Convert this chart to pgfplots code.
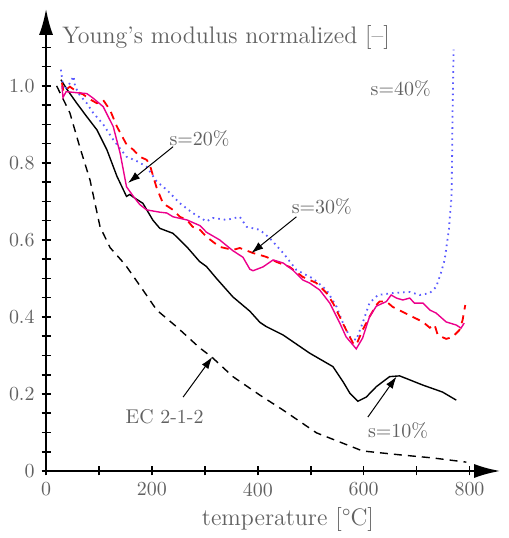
\documentclass[border=0pt]{standalone}
\usepackage{pgfplots}
\pgfplotsset{compat=1.18}
\usetikzlibrary{arrows.meta}
\definecolor{txt}{gray}{0.38}
\definecolor{bluedot}{RGB}{90,90,255}
\begin{document}
\begin{tikzpicture}
\begin{axis}[
  scale only axis, width=227bp, height=231bp,
  xmin=0, xmax=858, ymin=0, ymax=1.2,
  axis lines=left,
  axis line style={line width=1bp, -{Latex[length=13bp,width=7bp]}},
  xtick={0,200,400,600,800}, minor xtick={100,300,500,700},
  ytick={0,0.2,0.4,0.6,0.8,1.0},
  yticklabels={0,0.2,0.4,0.6,0.8,1.0},
  xticklabels={0,200,400,600,800},
  minor ytick={0.05,0.1,0.15,0.25,0.3,0.35,0.45,0.5,0.55,0.65,0.7,0.75,0.85,0.9,0.95,1.05,1.1},
  tick align=center, major tick length=4.5bp, minor tick length=4.5bp,
  tick style={black, line width=0.8bp},
  ticklabel style={text=txt, font=\normalsize},
  clip=false,
]
% EC 2-1-2
\addplot[black, line width=0.7bp, dash pattern=on 4bp off 3bp] coordinates {
(20,1.0) (45,0.93) (64,0.84) (83,0.756) (102,0.634) (121,0.58) (150,0.535)
(183,0.47) (209,0.418) (247,0.374) (290,0.32) (313,0.296) (353,0.245) (404,0.197)
(448,0.158) (511,0.099) (598,0.052) (668,0.042) (730,0.034) (794,0.023)};
% s=10%
\addplot[black, line width=0.7bp] coordinates {
(28,1.016) (40,0.99) (58,0.955) (77,0.92) (96,0.886) (115,0.834) (134,0.765)
(152,0.713) (158,0.718) (165,0.711) (183,0.695) (202,0.651) (215,0.630) (240,0.617)
(266,0.582) (290,0.544) (303,0.531) (322,0.50) (353,0.452) (385,0.415) (404,0.386)
(416,0.375) (448,0.353) (498,0.306) (542,0.271) (561,0.232) (574,0.202) (589,0.181)
(605,0.192) (624,0.219) (649,0.245) (668,0.247) (712,0.223) (749,0.205) (775,0.184)};
% s=40%
\addplot[bluedot, line width=0.9bp, dash pattern=on 0.8bp off 2bp] coordinates {
(28,1.042) (33,0.99) (42,1.0) (52,1.025) (55,0.998) (64,0.975) (77,0.955) (89,0.93)
(108,0.9) (127,0.86) (152,0.816) (171,0.805) (190,0.79) (209,0.752) (228,0.73)
(253,0.695) (277,0.67) (303,0.648) (315,0.657) (341,0.652) (366,0.66) (379,0.634)
(404,0.626) (423,0.604) (448,0.566) (473,0.522) (504,0.50) (530,0.47) (549,0.426)
(561,0.384) (574,0.348) (586,0.34) (598,0.384) (611,0.436) (627,0.457) (655,0.462)
(687,0.465) (706,0.457) (725,0.462) (737,0.478) (746,0.514) (753,0.548) (761,0.626)
(766,0.712) (767,0.80) (768,0.93) (770,1.094)};
% s=30%
\addplot[red, line width=0.9bp, dash pattern=on 4bp off 3bp] coordinates {
(30,1.008) (33,0.985) (45,0.998) (58,0.985) (70,0.978) (83,0.965) (96,0.955)
(108,0.963) (121,0.937) (134,0.894) (152,0.848) (165,0.834) (177,0.816) (190,0.808)
(196,0.795) (209,0.735) (221,0.695) (240,0.678) (253,0.66) (266,0.652) (277,0.634)
(291,0.626) (303,0.608) (328,0.582) (353,0.574) (366,0.579) (391,0.566) (416,0.556)
(435,0.543) (460,0.53) (485,0.504) (511,0.488) (530,0.462) (542,0.436) (555,0.40)
(567,0.366) (580,0.332) (586,0.327) (598,0.366) (611,0.40) (624,0.431) (630,0.44)
(643,0.44) (655,0.426) (674,0.413) (693,0.40) (712,0.387) (725,0.372) (734,0.38)
(740,0.353) (756,0.343) (768,0.348) (781,0.366) (787,0.392) (792,0.431)};
% s=20%
\addplot[magenta, line width=0.7bp] coordinates {
(30,1.0) (32,0.97) (38,0.985) (60,0.982) (77,0.98) (89,0.968) (108,0.946)
(127,0.894) (140,0.825) (152,0.738) (165,0.713) (177,0.692) (190,0.678) (215,0.672)
(228,0.67) (240,0.66) (266,0.652) (291,0.637) (303,0.62) (328,0.60) (353,0.572)
(372,0.555) (385,0.524) (391,0.52) (410,0.53) (429,0.548) (448,0.54) (466,0.522)
(485,0.496) (498,0.488) (517,0.47) (536,0.436) (555,0.384) (567,0.348) (580,0.327)
(586,0.317) (598,0.345) (611,0.40) (624,0.428) (643,0.44) (652,0.457) (662,0.449)
(674,0.444) (687,0.449) (696,0.436) (712,0.436) (725,0.418) (737,0.41) (756,0.387)
(775,0.379) (784,0.371) (790,0.384)};
% annotations
\node[anchor=west, text=txt, font=\large, inner sep=0pt] at (axis cs:30,1.125) {Young's modulus normalized [--]};
\node[text=txt, font=\large] at (axis cs:457,-0.127) {temperature [\textdegree C]};
\node[text=txt] at (axis cs:290,0.862) {s=20\%};
\draw[-{Latex[length=6bp,width=4bp]}, line width=0.5bp] (axis cs:240,0.842) -- (axis cs:155,0.748);
\node[text=txt] at (axis cs:521,0.686) {s=30\%};
\draw[-{Latex[length=6bp,width=4bp]}, line width=0.5bp] (axis cs:473,0.66) -- (axis cs:388,0.566);
\node[text=txt] at (axis cs:670,0.992) {s=40\%};
\node[text=txt] at (axis cs:224,0.14) {EC 2-1-2};
\draw[-{Latex[length=6bp,width=4bp]}, line width=0.5bp] (axis cs:259,0.192) -- (axis cs:314,0.296);
\node[text=txt] at (axis cs:665,0.106) {s=10\%};
\draw[-{Latex[length=6bp,width=4bp]}, line width=0.5bp] (axis cs:608,0.14) -- (axis cs:662,0.245);
\coordinate (bbA) at (axis cs:-87,1.223);
\coordinate (bbB) at (axis cs:874,-0.174);
\end{axis}
\pgfresetboundingbox
\path (bbA) rectangle (bbB);
\end{tikzpicture}
\end{document}
